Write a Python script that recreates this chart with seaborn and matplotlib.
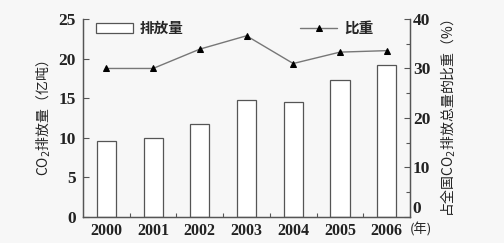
import matplotlib
matplotlib.use("Agg")
import matplotlib.pyplot as plt
import seaborn as sns
import pandas as pd
from matplotlib.ticker import MultipleLocator

years = ["2000", "2001", "2002", "2003", "2004", "2005", "2006"]
emissions = [9.6, 10.0, 11.8, 14.8, 14.5, 17.3, 19.2]
share = [30.0, 30.0, 33.9, 36.6, 31.0, 33.3, 33.6]
bar_label = "排放量"
line_label = "比重"

sns.set_theme(style="ticks")
plt.rcParams['font.family'] = ['Liberation Serif', 'Noto Sans CJK SC', 'DejaVu Sans']
cjk = ['Noto Sans CJK SC', 'DejaVu Sans']

df = pd.DataFrame({"year": years, "emissions": emissions, "share": share})

bg = "#f7f7f7"
fig = plt.figure(figsize=(5.04, 2.43), dpi=100, facecolor=bg)
ax = fig.add_axes([0.1647, 0.107, 0.6488, 0.815])
ax.set_facecolor(bg)

sns.barplot(data=df, x="year", y="emissions", ax=ax, width=0.41,
            color="white", edgecolor="#555555", linewidth=0.9, label=bar_label)
ax.set_xlim(-0.5, 6.5)
ax.set_ylim(0, 25)
ax.yaxis.set_major_locator(MultipleLocator(5))

ax2 = ax.twinx()
sns.lineplot(x=list(range(len(years))), y=share, ax=ax2, color="#777777",
             linewidth=1.0, marker="^", markersize=5, markerfacecolor="black",
             markeredgecolor="black", label=line_label)
ax2.set_ylim(0, 40)
ax2.yaxis.set_major_locator(MultipleLocator(10))
ax2.yaxis.set_minor_locator(MultipleLocator(5))

for a in (ax, ax2):
    for s in a.spines.values():
        s.set_color("#555555")
        s.set_linewidth(0.9)
ax.spines['top'].set_visible(False)
ax2.spines['top'].set_visible(False)

ax.tick_params(axis='y', direction='in', length=4, width=0.8, colors="#555555",
               labelcolor="#222222", labelsize=12.5, pad=5)
ax.tick_params(axis='x', length=0, labelcolor="#222222", labelsize=11.5, pad=4)
ax.set_xticks([i + 0.5 for i in range(6)], minor=True)
ax.tick_params(axis='x', which='minor', direction='in', length=3, width=0.8,
               colors="#555555")
ax2.tick_params(axis='y', which='major', direction='in', length=4, width=0.8,
                colors="#555555", labelcolor="#222222", labelsize=12.5, pad=2)
ax2.tick_params(axis='y', which='minor', direction='in', length=3, width=0.8,
                colors="#555555")
for lab in ax.get_xticklabels() + ax.get_yticklabels() + ax2.get_yticklabels():
    lab.set_fontweight("bold")

# raise the right-hand "0" label a little, as in the reference, leaving room for (年)
fig.canvas.draw()
for loc, tk in zip(ax2.yaxis.get_majorticklocs(), ax2.yaxis.get_major_ticks()):
    if abs(loc) < 1e-9:
        tk.label2.set_verticalalignment("bottom")

ax.set_xlabel("")
ax.set_ylabel("CO$_2$排放量（亿吨）", family=cjk, fontsize=10, color="#222222", labelpad=4)
ax2.set_ylabel("占全国CO$_2$排放总量的比重（%）", family=cjk, fontsize=10,
               color="#222222", rotation=90, labelpad=6)
ax.text(6.49, -0.03, "(年)", transform=ax.get_xaxis_transform(), family=cjk,
        fontsize=9.5, color="#222222", va="top", ha="left")

h1, l1 = ax.get_legend_handles_labels()
h2, l2 = ax2.get_legend_handles_labels()
if ax2.get_legend():
    ax2.get_legend().remove()
leg = ax.legend(h1 + h2, l1 + l2, ncol=2, loc="upper left", bbox_to_anchor=(0.0, 1.06),
                frameon=False, columnspacing=8.0, handlelength=2.5, handleheight=0.6,
                handletextpad=0.5,
                prop={'family': cjk, 'size': 10.5, 'weight': 'bold'})

fig.savefig("out.png", dpi=100, facecolor=bg)
